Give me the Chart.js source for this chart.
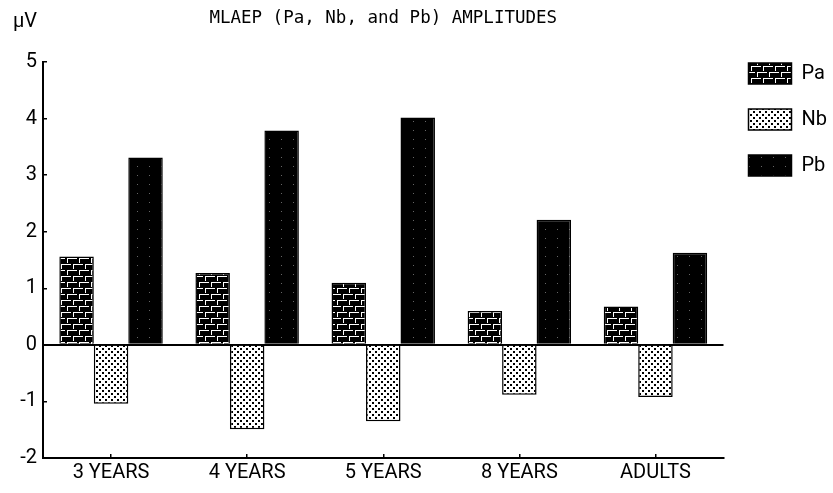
<!DOCTYPE html>
<html>
<head>
<meta charset="utf-8">
<script src="https://cdn.jsdelivr.net/npm/chart.js@4/dist/chart.umd.min.js"></script>
<style>
html,body{margin:0;padding:0;background:#fff;}
#wrap{width:833px;height:493px;position:relative;}
</style>
</head>
<body>
<div id="wrap"><canvas id="c" width="833" height="493"></canvas></div>
<script>
const categories = ['3 YEARS', '4 YEARS', '5 YEARS', '8 YEARS', 'ADULTS'];
const paValues = [1.56, 1.27, 1.10, 0.60, 0.68];
const nbValues = [-1.04, -1.49, -1.35, -0.88, -0.92];
const pbValues = [3.31, 3.79, 4.02, 2.21, 1.63];
const seriesNames = ['Pa', 'Nb', 'Pb'];
const chartTitle = 'MLAEP (Pa, Nb, and Pb) AMPLITUDES';
const unitLabel = 'μV';

function makePattern(w, h, draw) {
  const cv = document.createElement('canvas');
  cv.width = w; cv.height = h;
  const g = cv.getContext('2d');
  draw(g);
  return g.createPattern(cv, 'repeat');
}
const ctx0 = document.getElementById('c').getContext('2d');
const brick = makePattern(12, 12, g => {
  g.fillStyle = '#000'; g.fillRect(0, 0, 12, 12);
  g.fillStyle = '#fff';
  g.fillRect(1, 0, 10, 1);
  g.fillRect(7, 6, 10, 1); g.fillRect(0, 6, 5, 1);
  g.fillRect(1, 1, 1, 4);
  g.fillRect(7, 7, 1, 4);
});
const dots = makePattern(6, 6, g => {
  g.fillStyle = '#fff'; g.fillRect(0, 0, 6, 6);
  g.fillStyle = '#000';
  g.fillRect(0, 0, 2, 2); g.fillRect(3, 3, 2, 2);
});
const dark = makePattern(12, 9, g => {
  g.fillStyle = '#000'; g.fillRect(0, 0, 12, 9);
  g.fillStyle = '#666';
  g.fillRect(5, 4, 1, 1);
});

const FONT = "Roboto, 'Liberation Sans', sans-serif";

const unitPlugin = {
  id: 'unitLabel',
  afterDraw(chart) {
    const c = chart.ctx;
    c.save();
    c.fillStyle = '#000';
    c.font = '20px ' + FONT;
    c.textAlign = 'left';
    c.textBaseline = 'middle';
    c.fillText(unitLabel, 13, 22);
    c.restore();
  }
};

new Chart(ctx0, {
  type: 'bar',
  data: {
    labels: categories,
    datasets: [
      { label: seriesNames[0], data: paValues, backgroundColor: brick, borderColor: '#000', borderWidth: 1.5 },
      { label: seriesNames[1], data: nbValues, backgroundColor: dots, borderColor: '#000', borderWidth: 1.5 },
      { label: seriesNames[2], data: pbValues, backgroundColor: dark, borderColor: '#000', borderWidth: 1.5 }
    ]
  },
  options: {
    responsive: false,
    animation: false,
    devicePixelRatio: 1,
    datasets: { bar: { categoryPercentage: 0.76, barPercentage: 1.0 } },
    layout: { padding: { left: 0, right: -4, top: 0, bottom: 0 } },
    plugins: {
      title: {
        display: true,
        fullSize: false,
        text: chartTitle,
        color: '#000',
        font: { family: "'DejaVu Sans Mono', monospace", size: 17.5, weight: 'normal', lineHeight: 1.2 },
        padding: { top: 8, bottom: 33 }
      },
      legend: {
        position: 'right',
        align: 'start',
        title: { display: true, text: '', font: { size: 10, lineHeight: 1 }, padding: { top: 28, bottom: 0 } },
        labels: {
          boxWidth: 43, boxHeight: 21, padding: 25,
          color: '#000',
          font: { family: FONT, size: 20 }
        }
      },
      tooltip: { enabled: false }
    },
    scales: {
      x: {
        grid: { display: true, drawOnChartArea: false, drawTicks: true, tickLength: -4, offset: false, color: '#000', tickColor: '#000', lineWidth: 1.5 },
        border: { display: true, color: '#000', width: 2 },
        ticks: { color: '#000', padding: 7, font: { family: FONT, size: 20 }, maxRotation: 0 },
        afterFit: s => { s.height = 35; }
      },
      y: {
        min: -2, max: 5,
        ticks: { stepSize: 1, color: '#000', padding: 10, font: { family: FONT, size: 20 } },
        grid: {
          drawOnChartArea: true, drawTicks: true, tickLength: -4,
          color: c => (c.tick && c.tick.value === 0 ? '#000' : 'rgba(0,0,0,0)'),
          lineWidth: c => (c.tick && c.tick.value === 0 ? 2 : 1.5),
          tickColor: '#000'
        },
        border: { display: true, color: '#000', width: 2 },
        afterFit: s => { s.width = 43; }
      }
    }
  },
  plugins: [unitPlugin]
});
</script>
</body>
</html>
